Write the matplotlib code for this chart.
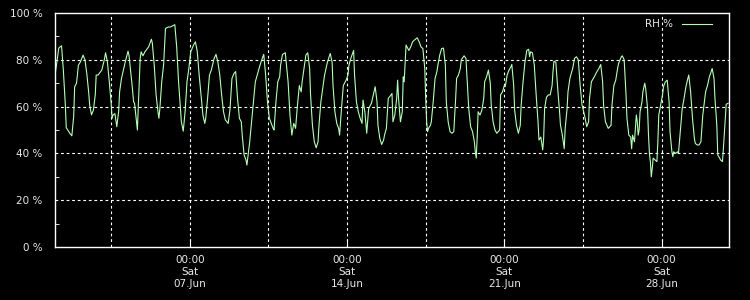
#!/usr/bin/env python3
import numpy as np
import matplotlib
matplotlib.use('Agg')
import matplotlib.pyplot as plt
import matplotlib.dates as mdates
from matplotlib.ticker import FuncFormatter, MultipleLocator

# hours since 2014-06-01 00:00 and relative humidity (%)
hours_w1 = [0, 2, 4, 7, 9, 11, 12, 16, 18, 20, 21, 23, 25, 27, 30, 32, 34, 36, 37, 39,
            41, 43, 44, 46, 50, 53, 54, 56, 58, 60, 61, 62, 64, 66, 68, 69, 71, 75, 78, 79,
            82, 84, 85, 87, 88, 90, 91, 92, 94, 96, 100, 103, 104, 106, 108, 110, 111, 112,
            114, 116, 118, 121, 123]
rh_w1 = [73.5, 79, 85, 86, 75, 61, 51, 48.5, 47.5, 56, 68.5, 70, 77.7, 79, 82, 80, 74, 66,
         60.7, 56.5, 58.5, 65, 73.5, 73.5, 75.6, 80.6, 83, 79, 70.6, 61.4, 55, 56.4, 57, 51.4,
         58, 66.3, 72, 79, 83.7, 82, 70.6, 62, 61.4, 54, 50, 70.6, 80.6, 83.4, 81.7, 83.4,
         85.5, 88.8, 87, 77.7, 65, 57.8, 55, 59, 70.6, 77.7, 93.4, 94, 94]

hours_w2 = [128, 130, 132, 134, 135, 137, 139, 141, 143, 145, 148, 150, 152, 154, 156, 158,
            160, 161, 163, 165, 167, 170, 172, 174, 176, 178, 180, 182, 185, 187, 189, 191,
            193, 195, 197, 199, 200, 202, 204, 205, 207, 208, 210, 212, 214, 216, 219, 222,
            223, 225, 227, 229, 231, 233, 234, 236, 238, 240]
rh_w2 = [95, 85.5, 70.6, 59, 53.5, 49.5, 58, 70.6, 76.3, 83.4, 86.3, 87.7, 83.4, 73.5, 65,
         56.4, 52.8, 55, 63.5, 73.5, 75.6, 80.6, 82.3, 79, 73.5, 65, 57.8, 54.3, 52.8, 59, 72,
         74, 75, 63.5, 55, 53.5, 47.8, 39.3, 37.2, 35, 41.5, 45, 53.5, 62, 70.6, 73.5, 77.7,
         81.3, 82.3, 73.5, 62, 55, 52.8, 50.7, 50, 62, 70.6, 72.7]

hours_w3 = [241, 243, 246, 247, 249, 251, 253, 255, 256, 257, 259, 261, 263, 264, 266, 268,
            270, 272, 273, 275, 277, 279, 281, 282, 284, 286, 288, 291, 294, 296, 297, 299,
            301, 303, 304, 306, 308, 311, 313, 314, 316, 319, 320, 322, 324, 326, 328, 329,
            331, 333, 335, 337, 338, 340, 342, 344, 345, 347, 349, 351, 352, 354, 356, 358]
rh_w3 = [77.7, 82.3, 83, 79, 70.6, 56.4, 47.8, 52.8, 52, 50.7, 60.6, 69, 66.3, 70.6, 76.3,
         82, 83, 76.3, 65, 52, 45, 42.4, 45, 52, 62, 67.8, 73.5, 79, 82.7, 79, 69, 57.8, 52.8,
         50.7, 47.8, 59, 69, 71.3, 73.5, 77.7, 80.6, 84, 73.5, 62, 57.8, 55, 52.8, 62.8, 57.8,
         48.6, 59, 60.7, 61.4, 65, 68.5, 62, 52, 46.4, 43.8, 45.7, 47.8, 50.7, 63.5, 64.5]

hours_w4 = [360, 361, 363, 365, 366, 367, 369, 371, 372, 373, 375, 376, 378, 380, 382, 385,
            387, 389, 391, 393, 395, 396, 397, 398, 399, 401, 402, 404, 406, 408, 409, 411,
            413, 415, 417, 418, 420, 422, 424, 426, 428, 429, 431, 433, 434, 437, 439, 440,
            442, 444, 446, 448, 449, 450, 451, 452, 454, 456, 458, 459, 461, 463, 465, 466,
            468, 470, 472, 475]
rh_w4 = [65.6, 53.5, 56.4, 63.5, 71.3, 63.5, 53.5, 57.8, 72.7, 70.6, 86.3, 85.5, 84, 85.5,
         87.7, 88.8, 89.4, 87.7, 85.5, 84.8, 76.3, 63.5, 53.5, 49.3, 50.7, 52, 53.5, 62, 72,
         75, 77.7, 82, 84.8, 85, 77.7, 62, 53.5, 49.3, 48.6, 49.3, 63.5, 72, 73.5, 76.3, 80,
         81.7, 80.6, 73.5, 59, 51.4, 49.3, 45, 40.7, 38, 47, 57.8, 56.4, 58.5, 63.5, 70.6,
         72.7, 75.6, 70, 60.7, 53.5, 50, 48.6, 50]

hours_w5 = [476, 478, 480, 481, 483, 485, 487, 488, 490, 491, 493, 495, 497, 498, 500, 502,
            504, 506, 507, 508, 510, 512, 514, 516, 517, 519, 521, 522, 523, 525, 527, 529,
            531, 532, 533, 535, 537, 539, 540, 542, 544, 545, 547, 548, 550, 553, 555, 557,
            559, 561, 563, 564, 566, 568, 570, 571, 573, 576, 579, 581, 583, 585, 586, 588, 591]
rh_w5 = [65, 66.3, 69, 68.5, 73.5, 75.6, 77, 78, 69, 58.5, 52, 48.6, 52, 60.7, 70.6, 79, 84,
         84.5, 81.3, 83.4, 83, 77.7, 65, 53.5, 45.7, 47, 41.5, 46.4, 59, 64, 65, 65, 69, 75,
         79.4, 79, 67.8, 57.8, 52, 47.8, 42, 50.7, 59, 66.3, 72, 76.3, 80.6, 81.3, 80, 69,
         60.7, 59, 55.7, 51.4, 53.5, 63.5, 70.6, 72.7, 75, 76.3, 78, 70.6, 60.7, 53.5, 50.7]

hours_w6 = [594, 595, 597, 599, 601, 602, 605, 606, 608, 610, 611, 613, 615, 616, 617, 619,
            621, 622, 623, 624, 625, 627, 628, 630, 631, 633, 634, 635, 636, 637, 638, 639,
            641, 643, 644, 645, 647, 649, 650, 652, 654, 656, 657, 659, 660, 661, 663, 665,
            666, 668, 670, 672, 674, 676, 677, 679, 681, 683, 684, 686, 688, 690, 692, 694,
            695, 697, 699, 701, 702, 704, 705, 707, 708, 710, 711, 713, 714, 716, 717, 719]
rh_w6 = [52, 60.7, 69, 71.3, 76.3, 78.4, 81.3, 81.7, 80, 65, 55, 47.8, 47, 42, 47.8, 45,
         56.4, 53.5, 47.8, 50, 57.8, 62, 66.3, 70, 67.8, 59, 47.8, 40, 36.5, 30, 33.6, 38,
         37.2, 36.5, 45, 56.4, 60.7, 65, 68.5, 70.6, 71.3, 62, 49.3, 40.7, 38.6, 40.7, 40,
         40.7, 40, 49.3, 59, 63.5, 68.5, 72, 73.5, 66.3, 55, 46.4, 44.3, 43.6, 43.6, 45, 56.4,
         62.8, 66.3, 69, 72.7, 75, 76.3, 72, 63.5, 52, 39.3, 38, 37.2, 36.5, 42, 55, 61, 61.4]

start = np.datetime64('2014-06-01T00:00')
end = np.datetime64('2014-07-01T00:00')
hours = hours_w1 + hours_w2 + hours_w3 + hours_w4 + hours_w5 + hours_w6
rh = rh_w1 + rh_w2 + rh_w3 + rh_w4 + rh_w5 + rh_w6
times = start + np.array(hours).astype('timedelta64[h]')

fg = '#e8e8e8'
plt.rcParams['font.family'] = 'DejaVu Sans'
plt.rcParams['font.size'] = 7.5

fig = plt.figure(figsize=(7.5, 3), dpi=100, facecolor='black')
ax = fig.add_axes([55 / 750, 53 / 300, 674 / 750, 234 / 300], facecolor='black')

ax.plot(times, rh, color='#b4ffb4', lw=0.8, label='RH %')

ax.set_xlim(start, end)
ax.set_ylim(0, 100)

sats = [np.datetime64('2014-06-%02dT00:00' % d) for d in (7, 14, 21, 28)]
halves = [np.datetime64('2014-06-%02dT12:00' % d) for d in (3, 10, 17, 24)]
ax.set_xticks(sats)
ax.set_xticks(halves, minor=True)
ax.xaxis.set_major_formatter(mdates.DateFormatter('%H:%M\n%a\n%d.%b'))
ax.yaxis.set_major_locator(MultipleLocator(20))
ax.yaxis.set_minor_locator(MultipleLocator(10))
ax.yaxis.set_major_formatter(FuncFormatter(lambda v, p: '%d %%' % v))

for t in sats + halves:
    ax.axvline(t, color='white', lw=0.8, ls=(0, (2.5, 2.5)), zorder=0)
for v in (20, 40, 60, 80):
    ax.axhline(v, color='white', lw=0.8, ls=(0, (2.5, 2.5)), zorder=0)

ax.tick_params(axis='x', which='major', direction='in', length=6, color='white',
               labelcolor=fg, pad=6)
ax.tick_params(axis='x', which='minor', direction='in', length=0)
ax.tick_params(axis='y', which='major', direction='in', length=0, labelcolor=fg, pad=9)
ax.tick_params(axis='y', which='minor', direction='in', length=3, color='white')
for s in ax.spines.values():
    s.set_color('white')
    s.set_linewidth(1)

leg = ax.legend(loc='upper right', bbox_to_anchor=(0.984, 1.0), frameon=False,
                markerfirst=False, handlelength=2.9, borderaxespad=0.2, labelcolor=fg)

fig.savefig('out.png', dpi=100, facecolor='black')
